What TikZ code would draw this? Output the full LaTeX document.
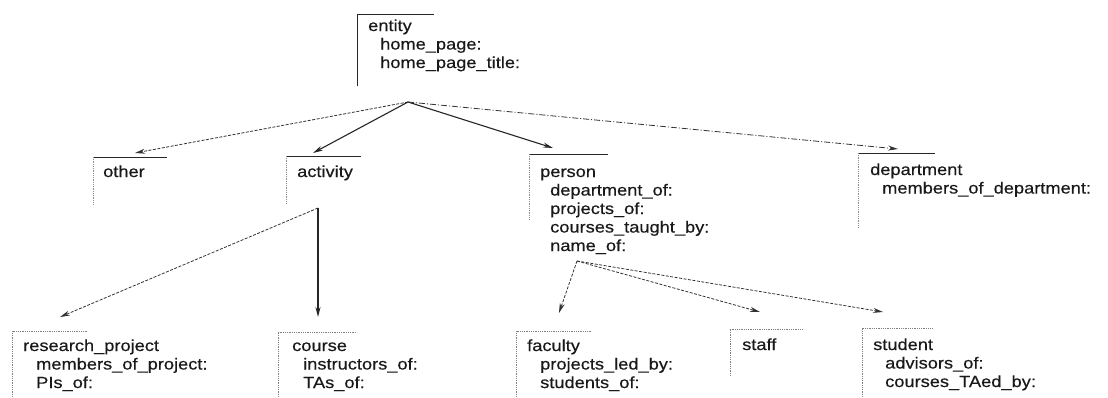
\documentclass[tikz,border=0pt]{standalone}
\usepackage{fontspec}
\setmainfont{Liberation Sans}[FakeStretch=1.14,FakeBold=0.3]
\usetikzlibrary{arrows.meta}
\begin{document}
\begin{tikzpicture}[x=1pt,y=-1pt,
  lbl/.style={anchor=base west,inner sep=0pt,font=\fontsize{16}{18.5}\selectfont,text=black!90},
  topline/.style={line width=0.9pt,black!85},
  sideline/.style={line width=0.7pt,black!45,dash pattern=on 1pt off 0.8pt},
  dotline/.style={line width=0.7pt,black!50,dash pattern=on 1pt off 0.8pt},
  conn/.style={line width=1.1pt,black!85,-{Stealth[length=10pt,width=5pt]}},
  dconn/.style={line width=0.8pt,black!80,dash pattern=on 3pt off 1.5pt,-{Stealth[length=10pt,width=5pt]}},
  ddconn/.style={line width=0.8pt,black!80,dash pattern=on 6pt off 2pt on 1pt off 2pt,-{Stealth[length=10pt,width=5pt]}}
]
\useasboundingbox[fill=white] (0,0) rectangle (1108,397);

% ---- entity ----
\draw[topline] (357,86) -- (357,14) -- (434,14);
\node[lbl] (entity) at (368,31) {\begin{tabular}[t]{@{}l@{}}entity\\\hspace*{12pt}home\_page:\\\hspace*{12pt}home\_page\_title:\end{tabular}};

% ---- second row ----
\draw[topline] (93,157) -- (167,157);
\draw[sideline] (93,157) -- (93,205);
\node[lbl] (other) at (103,177) {other};

\draw[topline] (286,156) -- (361,156);
\draw[sideline] (286,156) -- (286,204);
\node[lbl] (activity) at (297,177) {activity};

\draw[topline] (529,154) -- (608,154);
\draw[sideline] (529,154) -- (529,220);
\node[lbl] (person) at (540,177) {\begin{tabular}[t]{@{}l@{}}person\\\hspace*{10pt}department\_of:\\\hspace*{10pt}projects\_of:\\\hspace*{10pt}courses\_taught\_by:\\\hspace*{10pt}name\_of:\end{tabular}};

\draw[topline] (858,153) -- (935,153);
\draw[sideline] (858,153) -- (858,228);
\node[lbl] (department) at (870,175) {\begin{tabular}[t]{@{}l@{}}department\\\hspace*{12pt}members\_of\_department:\end{tabular}};

% ---- third row ----
\draw[dotline] (12,397) -- (12,331) -- (88,331);
\node[lbl] (research) at (23,351) {\begin{tabular}[t]{@{}l@{}}research\_project\\\hspace*{13pt}members\_of\_project:\\\hspace*{13pt}PIs\_of:\end{tabular}};

\draw[dotline] (278,397) -- (278,332) -- (357,332);
\node[lbl] (course) at (292,351) {\begin{tabular}[t]{@{}l@{}}course\\\hspace*{11pt}instructors\_of:\\\hspace*{11pt}TAs\_of:\end{tabular}};

\draw[dotline] (516,397) -- (516,331) -- (592,331);
\node[lbl] (faculty) at (527,351) {\begin{tabular}[t]{@{}l@{}}faculty\\\hspace*{13pt}projects\_led\_by:\\\hspace*{13pt}students\_of:\end{tabular}};

\draw[dotline] (730,376) -- (730,329) -- (802,329);
\node[lbl] (staff) at (742,350) {staff};

\draw[dotline] (862,397) -- (862,328) -- (933,328);
\node[lbl] (student) at (873,350) {\begin{tabular}[t]{@{}l@{}}student\\\hspace*{12pt}advisors\_of:\\\hspace*{12pt}courses\_TAed\_by:\end{tabular}};

% ---- connector points ----
\coordinate (E) at (408,102);
\coordinate (A) at (318,208);
\coordinate (P) at (577,261);
\coordinate (tOther) at (135,153);
\coordinate (tActivity) at (313,153);
\coordinate (tPerson) at (553,148);
\coordinate (tDept) at (898,149);
\coordinate (tResearch) at (60,317);
\coordinate (tCourse) at (318,317);
\coordinate (tFaculty) at (559,313);
\coordinate (tStaff) at (760,312);
\coordinate (tStudent) at (883,312);

\draw[dconn] (E) -- (tOther);
\draw[conn] (E) -- (tActivity);
\draw[conn] (E) -- (tPerson);
\draw[ddconn] (E) -- (tDept);
\draw[dconn] (A) -- (tResearch);
\draw[conn] (A) -- (tCourse);
\draw[dconn] (P) -- (tFaculty);
\draw[dconn] (P) -- (tStaff);
\draw[dconn] (P) -- (tStudent);
\end{tikzpicture}
\end{document}
